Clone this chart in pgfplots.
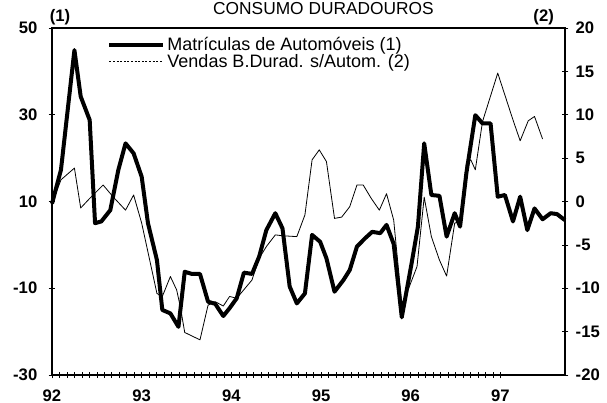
\documentclass[border=0pt]{standalone}
\usepackage{fontspec}
\setmainfont{Liberation Sans}
\usepackage{pgfplots}
\usepackage{pgfplotstable}
\pgfplotsset{compat=1.18}

% Matriculas de Automoveis (1) -- left axis
\pgfplotstableread{
x y
92.00 9.5
92.10 17.3
92.25 44.9
92.32 34.2
92.42 28.8
92.48 5.0
92.55 5.4
92.65 8.0
92.74 17.3
92.82 23.4
92.91 21.1
93.00 15.7
93.07 5.0
93.17 -3.5
93.23 -15.0
93.32 -15.8
93.41 -18.9
93.48 -6.2
93.56 -6.7
93.65 -6.7
93.74 -13.1
93.82 -13.6
93.91 -16.4
93.98 -14.6
94.06 -12.3
94.14 -6.4
94.23 -6.7
94.31 -2.7
94.39 3.4
94.49 7.3
94.57 3.8
94.65 -9.6
94.73 -13.5
94.82 -11.2
94.90 2.3
94.99 0.7
95.06 -3.1
95.15 -10.8
95.25 -8.1
95.32 -5.8
95.40 -0.4
95.49 1.5
95.57 3.0
95.66 2.7
95.73 4.6
95.81 0.2
95.90 -16.7
96.01 -4.2
96.08 4.2
96.15 23.4
96.23 11.5
96.32 11.3
96.40 1.9
96.49 7.3
96.55 4.2
96.62 16.5
96.72 29.9
96.80 28.0
96.89 28.0
96.97 11.1
97.05 11.5
97.14 5.4
97.22 11.1
97.30 3.4
97.38 8.4
97.47 5.9
97.56 7.3
97.63 7.1
97.72 5.7
}\matr

% Vendas B.Durad. s/Autom. (2) -- right axis
\pgfplotstableread{
x y
92.00 -0.25
92.10 2.5
92.25 3.85
92.32 -0.75
92.42 0.35
92.57 1.9
92.68 0.55
92.82 -1.0
92.91 0.75
93.00 -2.5
93.17 -10.6
93.23 -10.95
93.32 -8.65
93.39 -10.2
93.43 -12.1
93.48 -15.1
93.65 -15.95
93.74 -11.95
93.82 -11.55
93.91 -12.05
93.98 -10.95
94.06 -11.15
94.23 -9.05
94.31 -6.55
94.39 -5.2
94.49 -3.85
94.57 -3.95
94.73 -4.05
94.82 -1.55
94.90 4.8
94.98 5.95
95.06 4.6
95.15 -1.95
95.23 -1.8
95.32 -0.6
95.40 1.9
95.47 1.9
95.56 0.35
95.65 -1.0
95.73 0.9
95.81 -2.15
95.90 -11.75
95.97 -10.2
96.07 -7.5
96.15 0.5
96.23 -4.05
96.32 -6.75
96.40 -8.6
96.49 -2.5
96.55 -2.25
96.62 4.4
96.67 4.8
96.72 3.65
96.80 9.2
96.97 14.8
97.14 9.4
97.22 7.0
97.31 9.3
97.38 9.8
97.47 7.2
}\vendas

\begin{document}
\begin{tikzpicture}
\begin{axis}[
  name=ax,
  scale only axis,
  width=384.75pt, height=260.25pt,
  xmin=92, xmax=97.72,
  ymin=-30, ymax=50,
  xtick={92,93,94,95,96,97},
  minor x tick num=11,
  ytick={-30,-10,10,30,50},
  xtick pos=bottom, ytick pos=left,
  tick align=center,
  major tick length=5pt, minor tick length=4pt,
  tick style={black, line width=0.5pt},
  axis line style={line width=0.8pt},
  /pgf/number format/assume math mode=true,
  ticklabel style={font=\fontsize{12.5}{14}\selectfont\bfseries},
  yticklabel style={xshift=-5pt},
  xticklabel style={yshift=-5pt},
  legend style={at={(0.105,0.985)}, anchor=north west, draw=none, fill=none,
     font=\fontsize{13.5}{15}\selectfont, row sep=-3pt, inner sep=1pt},
  legend cell align=left,
  legend image code/.code={\draw[#1] (0pt,0pt) -- (40pt,0pt);},
  clip=false,
]
\addplot[black, line width=3pt, line join=round] table[x=x,y=y]{\matr};
\addlegendentry{Matrículas de Automóveis (1)}
\addlegendimage{black, line width=0.6pt, dash pattern=on 1.5pt off 1.2pt}
\addlegendentry{Vendas B.Durad. s/Autom. (2)}
\end{axis}
\begin{axis}[
  scale only axis,
  width=384.75pt, height=260.25pt,
  xmin=92, xmax=97.72,
  ymin=-20, ymax=20,
  ytick={-20,-15,...,20},
  hide x axis,
  axis y line*=right,
  tick align=center,
  major tick length=5pt,
  tick style={black, line width=0.5pt},
  axis line style={line width=0.8pt},
  /pgf/number format/assume math mode=true,
  ticklabel style={font=\fontsize{12.5}{14}\selectfont\bfseries},
  yticklabel style={xshift=2pt},
]
\addplot[black, line width=0.6pt, line join=round] table[x=x,y=y]{\vendas};
\end{axis}
\node[anchor=base, font=\fontsize{12.5}{14}\selectfont\bfseries] at ([xshift=6pt,yshift=5pt]ax.north west) {(1)};
\node[anchor=base, font=\fontsize{12.5}{14}\selectfont\bfseries] at ([xshift=-16pt,yshift=5pt]ax.north east) {(2)};
\node[anchor=base, font=\fontsize{13}{15}\selectfont] at ([xshift=203.6pt,yshift=10.3pt]ax.north west) {CONSUMO DURADOUROS};
\pgfresetboundingbox
\path ([xshift=-39pt,yshift=-21pt]ax.south west) rectangle ([xshift=31.5pt,yshift=21pt]ax.north east);
\end{tikzpicture}
\end{document}
